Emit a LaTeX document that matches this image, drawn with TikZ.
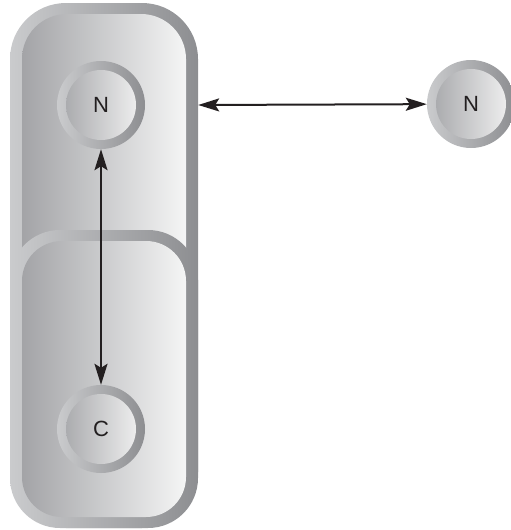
\documentclass[tikz,border=0pt]{standalone}
\usepackage{fontspec}
\setsansfont{Liberation Sans}
\usetikzlibrary{arrows.meta,positioning}
\definecolor{pcink}       {HTML}{231F20}
\definecolor{pcrimlight}  {HTML}{CACBCD}
\definecolor{pcrimdark}   {HTML}{8D8E91}
\definecolor{pcfilldark}  {HTML}{A3A4A7}
\definecolor{pcfilllight} {HTML}{F5F5F5}
\tikzset{
  pcrim/.style={left color=pcrimlight, right color=pcrimdark},
  pcfill/.style={left color=pcfilldark, right color=pcfilllight},
  pcshell/.style={rectangle, pcrim, inner sep=0pt},
  pcsite/.style={circle, pcrim, minimum size=88pt, inner sep=0pt,
                 font=\sffamily\fontsize{22}{22}\selectfont, text=pcink,
                 path picture={\shade[pcfill]
                   (path picture bounding box.center) circle (35pt);}},
  pcedge/.style={{Stealth[length=21pt,width=13pt,inset=4pt]}-{Stealth[length=21pt,width=13pt,inset=4pt]},
                 draw=pcink, line width=2pt},
}

\begin{document}
\begin{tikzpicture}[x=1pt,y=-1pt]
  \useasboundingbox (0,0) rectangle (511,530);

  % outer shell with its upper compartment
  \node[pcshell, rounded corners=56pt, minimum width=188pt, minimum height=525pt]
    (cell) at (104,265.5) {};
  \shade[pcfill, rounded corners=45pt] (22,14) rectangle (186,517);

  % lower compartment
  \shade[pcrim, rounded corners=50pt] (10,230) rectangle (198,528);
  \shade[pcfill, rounded corners=40pt] (22,241) rectangle (186,517);

  \node[pcsite] (topN) at (101,105) {N};
  \node[pcsite] (core) at (101,429) {C};
  \node[pcsite] (farN) at (471,104) {N};

  \coordinate (wall) at (cell.east |- topN);
  \draw[pcedge] (wall) -- (farN);
  \draw[pcedge] (topN) -- (core);
\end{tikzpicture}
\end{document}
